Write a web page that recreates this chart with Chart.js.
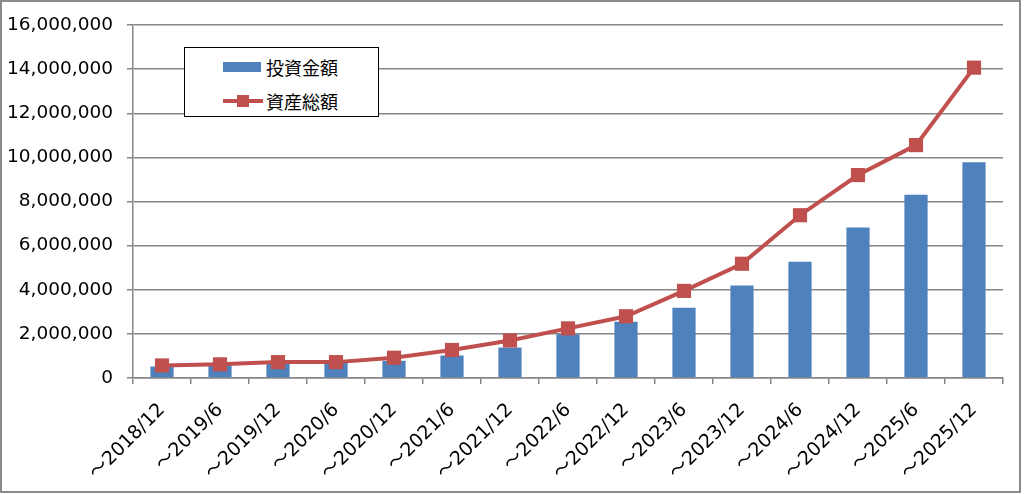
<!DOCTYPE html>
<html>
<head>
<meta charset="utf-8">
<script src="https://cdn.jsdelivr.net/npm/chart.js@4.4.0/dist/chart.umd.min.js"></script>
<style>
  body { margin: 0; background: #fff; }
  #wrap { position: relative; width: 1024px; height: 494px; }
  #legend {
    position: absolute; left: 184px; top: 47px; width: 193px; height: 68px;
    border: 1.5px solid #000; background: #fff;
    font-family: "Noto Sans CJK JP", sans-serif; font-size: 18px; color: #000;
  }
  .item { position: absolute; left: 38px; height: 24px; line-height: 24px; }
  .item span { position: absolute; left: 43px; top: 0; white-space: nowrap; }
  .sw-bar { position: absolute; left: 0; top: 7px; width: 38px; height: 10px; background: #4F81BD; }
  .sw-line { position: absolute; left: 0; top: 10px; width: 40px; height: 4px; background: #C0504D; }
  .sw-mark { position: absolute; left: 14px; top: 6px; width: 12px; height: 12px; background: #C0504D; }
</style>
</head>
<body>
<div id="wrap">
  <canvas id="myChart" width="1024" height="494"></canvas>
  <div id="legend">
    <div class="item" style="top:7px"><div class="sw-bar"></div><span>投資金額</span></div>
    <div class="item" style="top:41px"><div class="sw-line"></div><div class="sw-mark"></div><span>資産総額</span></div>
  </div>
</div>
<script>
var ctx = document.getElementById('myChart');

const periods = ['〜2018/12', '〜2019/6', '〜2019/12', '〜2020/6', '〜2020/12', '〜2021/6', '〜2021/12',
  '〜2022/6', '〜2022/12', '〜2023/6', '〜2023/12', '〜2024/6', '〜2024/12', '〜2025/6', '〜2025/12'];
const investAmount = [520000, 600000, 680000, 700000, 780000, 1020000, 1380000,
  1980000, 2550000, 3190000, 4190000, 5270000, 6820000, 8310000, 9780000];
const totalAssets = [570000, 620000, 720000, 720000, 920000, 1270000, 1700000,
  2250000, 2800000, 3950000, 5180000, 7380000, 9200000, 10560000, 14070000];
const yMax = 16000000;
const yStep = 2000000;

const gridGray = '#868686';

// outer frame of the picture
const framePlugin = {
  id: 'frame',
  afterDraw(chart) {
    const c = chart.ctx;
    c.save();
    c.strokeStyle = '#8a8a8a';
    c.lineWidth = 2;
    c.strokeRect(1, 1, 1019, 491);
    c.restore();
  }
};

var myChart = new Chart(ctx, {
  data: {
    labels: periods,
    datasets: [
      {
        type: 'line',
        label: '資産総額',
        data: totalAssets,
        order: 0,
        borderColor: '#C0504D',
        backgroundColor: '#C0504D',
        borderWidth: 4,
        pointStyle: 'rect',
        pointRadius: 10,
        pointBorderWidth: 0,
        tension: 0
      },
      {
        type: 'bar',
        label: '投資金額',
        data: investAmount,
        order: 1,
        backgroundColor: '#4F81BD',
        categoryPercentage: 1,
        barPercentage: 0.4
      }
    ]
  },
  options: {
    responsive: false,
    animation: false,
    devicePixelRatio: 1,
    layout: { padding: { top: 22, right: 21, left: 0, bottom: 0 } },
    plugins: {
      legend: { display: false },
      tooltip: { enabled: false }
    },
    scales: {
      x: {
        offset: true,
        afterFit(scale) { scale.height = 116; },
        grid: {
          offset: true,
          drawOnChartArea: false,
          drawTicks: true,
          tickLength: 6,
          color: gridGray,
          lineWidth: 1.5
        },
        border: { color: gridGray, width: 1.5 },
        ticks: {
          autoSkip: false,
          maxRotation: 45,
          minRotation: 45,
          padding: 15,
          color: '#000',
          font: { family: "'DejaVu Sans', 'Noto Sans CJK JP'", size: 19 }
        }
      },
      y: {
        min: 0,
        max: yMax,
        afterFit(scale) { scale.width = 133; },
        grid: {
          color: gridGray,
          lineWidth: 1.5,
          tickLength: 6
        },
        border: { color: gridGray, width: 1.5 },
        ticks: {
          stepSize: yStep,
          padding: 14,
          color: '#000',
          font: { family: 'DejaVu Sans', size: 18.5 },
          callback: v => v.toLocaleString('en-US')
        }
      }
    }
  },
  plugins: [framePlugin]
});
</script>
</body>
</html>
